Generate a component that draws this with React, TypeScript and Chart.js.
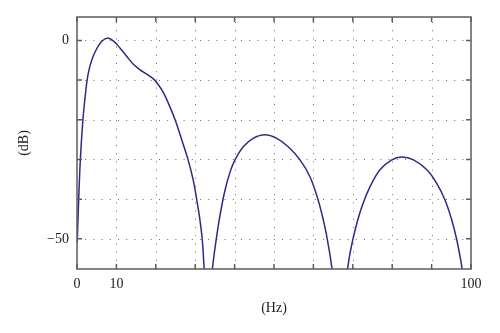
import React, { useEffect, useRef } from "react";
import { Chart, registerables } from "chart.js";

Chart.register(...registerables);

// Main lobe (frequency in Hz, level in dB)
const lobe1Hz = [0, 0.08, 0.43, 0.85, 1.5, 2.0, 2.5, 3.0, 3.8, 5.0, 6.3, 7.8, 9.2, 10.9, 12.6, 14.3, 16.0, 17.7, 19.4, 20.6, 21.9, 23.4, 24.9, 26.6, 28.2, 29.5, 30.4, 31.2, 31.8, 32.3];
const lobe1Db = [-51, -50, -40, -30, -20, -14.8, -10.5, -7.6, -4.8, -2.1, -0.2, 0.6, -0.1, -1.9, -4.0, -6.0, -7.4, -8.5, -9.7, -11.1, -13.1, -16.3, -20, -25.1, -30.1, -35.2, -40.2, -45.2, -50.3, -58];

// Second lobe
const lobe2Hz = [34.3, 35.0, 36.1, 37.5, 38.9, 40.1, 42.2, 44.7, 47.7, 50.7, 53.6, 56.6, 59.1, 61.2, 62.9, 64.0, 64.8];
const lobe2Db = [-58, -52.5, -45.2, -38, -33, -30.1, -26.8, -24.7, -23.8, -24.7, -26.8, -30.1, -34.3, -40.2, -46.9, -52.8, -58];

// Third lobe
const lobe3Hz = [68.6, 69.3, 70.6, 72.3, 74.4, 76.9, 79.9, 82.4, 85.4, 88.8, 91.3, 93.4, 95.1, 96.4, 97.5, 97.8];
const lobe3Db = [-58, -53.6, -47.7, -41.9, -36.8, -32.6, -30.1, -29.4, -30.1, -32.6, -36, -40.2, -45.2, -50.3, -56, -58];

// Axes
const xTicks = [0, 10, 20, 30, 40, 50, 60, 70, 80, 90, 100];
const xLabeled = [0, 10, 100];
const yTicks = [-50, -40, -30, -20, -10, 0];
const yLabeled = [0, -50];
const xMin = 0;
const xMax = 100;
const yMin = -57.6;
const yMax = 5.9;
const xTitle = "(Hz)";
const yTitle = "(dB)";

const FONT = "'Liberation Serif', 'Times New Roman', serif";
const LINE = "#2e2a86";
const AXIS = "#5c5c5c";
const TEXT = "#222222";

const toPoints = (xs: number[], ys: number[]) => xs.map((x, i) => ({ x, y: ys[i] }));

const framePlugin = {
  id: "frame",
  beforeDatasetsDraw(chart: any) {
    const { ctx, chartArea, scales } = chart;
    const { left, right, top, bottom } = chartArea;
    ctx.save();
    ctx.strokeStyle = "#6e6e6e";
    ctx.lineWidth = 1;
    ctx.setLineDash([1, 7.2]);
    for (const v of xTicks) {
      if (v === xMin || v === xMax) continue;
      const px = Math.round(scales.x.getPixelForValue(v)) + 0.5;
      ctx.beginPath();
      ctx.moveTo(px, bottom);
      ctx.lineTo(px, top);
      ctx.stroke();
    }
    for (const v of yTicks) {
      const py = Math.round(scales.y.getPixelForValue(v)) + 0.5;
      ctx.beginPath();
      ctx.moveTo(left, py);
      ctx.lineTo(right, py);
      ctx.stroke();
    }
    ctx.restore();
  },
  afterDatasetsDraw(chart: any) {
    const { ctx, chartArea, scales } = chart;
    const { left, right, top, bottom } = chartArea;
    ctx.save();
    ctx.strokeStyle = AXIS;
    ctx.lineWidth = 1.5;
    ctx.setLineDash([]);
    ctx.strokeRect(left, top, right - left, bottom - top);
    const tl = 5;
    ctx.beginPath();
    for (const v of xTicks) {
      const px = scales.x.getPixelForValue(v);
      ctx.moveTo(px, bottom);
      ctx.lineTo(px, bottom - tl);
      ctx.moveTo(px, top);
      ctx.lineTo(px, top + tl);
    }
    for (const v of yTicks) {
      const py = scales.y.getPixelForValue(v);
      ctx.moveTo(left, py);
      ctx.lineTo(left + tl, py);
      ctx.moveTo(right, py);
      ctx.lineTo(right - tl, py);
    }
    ctx.stroke();
    ctx.restore();
  },
};

export default function App() {
  const canvasRef = useRef<HTMLCanvasElement | null>(null);

  useEffect(() => {
    if (!canvasRef.current) return;
    const lineStyle = {
      borderColor: LINE,
      borderWidth: 1.5,
      pointRadius: 0,
      fill: false,
      tension: 0.35,
    };
    const chart = new Chart(canvasRef.current, {
      type: "line",
      data: {
        datasets: [
          { data: toPoints(lobe1Hz, lobe1Db), ...lineStyle },
          { data: toPoints(lobe2Hz, lobe2Db), ...lineStyle },
          { data: toPoints(lobe3Hz, lobe3Db), ...lineStyle },
        ],
      },
      options: {
        responsive: false,
        animation: false,
        layout: { padding: { top: 17, right: 29, left: 0, bottom: 0 } },
        plugins: {
          legend: { display: false },
          tooltip: { enabled: false },
        },
        scales: {
          x: {
            type: "linear",
            min: xMin,
            max: xMax,
            afterBuildTicks: (s: any) => {
              s.ticks = xTicks.map((value) => ({ value }));
            },
            afterFit: (s: any) => {
              s.height = 64;
            },
            grid: { display: false, drawTicks: false },
            border: { display: false },
            ticks: {
              autoSkip: false,
              maxRotation: 0,
              padding: 7,
              color: TEXT,
              font: { family: FONT, size: 14 },
              callback: (v: any) => (xLabeled.includes(Number(v)) ? String(v) : ""),
            },
            title: {
              display: true,
              text: xTitle,
              color: TEXT,
              font: { family: FONT, size: 14 },
              padding: { top: 0, bottom: 16 },
            },
          },
          y: {
            type: "linear",
            min: yMin,
            max: yMax,
            afterBuildTicks: (s: any) => {
              s.ticks = yTicks.map((value) => ({ value }));
            },
            afterFit: (s: any) => {
              s.width = 77;
            },
            grid: { display: false, drawTicks: false },
            border: { display: false },
            ticks: {
              autoSkip: false,
              padding: 8,
              color: TEXT,
              font: { family: FONT, size: 14 },
              callback: (v: any) => {
                const n = Number(v);
                if (!yLabeled.includes(n)) return "";
                return n < 0 ? "\u2212" + String(Math.abs(n)) : String(n);
              },
            },
            title: {
              display: true,
              text: yTitle,
              color: TEXT,
              font: { family: FONT, size: 14 },
              padding: { top: 16, bottom: 0 },
            },
          },
        },
      },
      plugins: [framePlugin],
    });
    return () => chart.destroy();
  }, []);

  return (
    <div style={{ position: "absolute", left: 0, top: 0, width: 500, height: 333, background: "#fff" }}>
      <canvas ref={canvasRef} width={500} height={333} />
    </div>
  );
}
